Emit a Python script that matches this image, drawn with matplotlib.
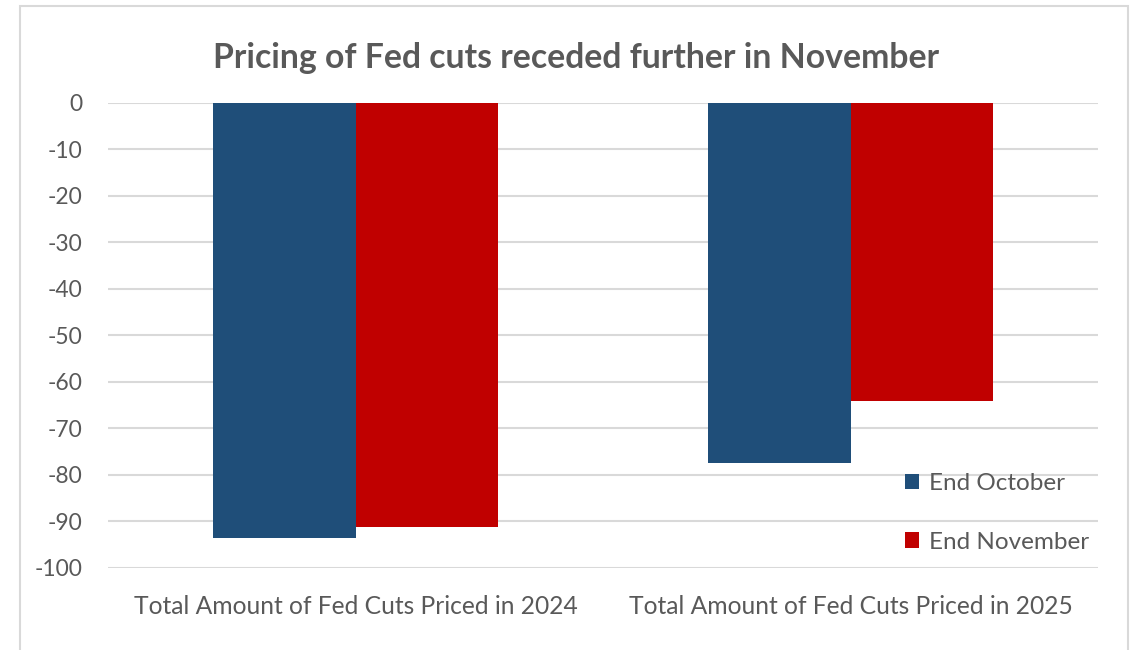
import matplotlib
matplotlib.use("Agg")
import matplotlib.pyplot as plt
from matplotlib.patches import Rectangle
import numpy as np

categories = ["Total Amount of Fed Cuts Priced in 2024", "Total Amount of Fed Cuts Priced in 2025"]
series_names = ["End October", "End November"]
end_october = [-93.6, -77.5]
end_november = [-91.2, -64.2]
yticks = list(range(0, -101, -10))
colors = ["#1f4e79", "#c00000"]
title = "Pricing of Fed cuts receded further in November"

plt.rcParams['font.family'] = ['Lato', 'DejaVu Sans']
txt = "#595959"

fig = plt.figure(figsize=(11.33, 6.5), dpi=100)
fig.patches.append(Rectangle((20/1133, -0.1), (1128-20)/1133, 1.1 - 6/650, transform=fig.transFigure,
                             fill=False, edgecolor="#d9d9d9", linewidth=1.5))
ax = fig.add_axes([108/1133, 1-567.7/650, (1098-108)/1133, (567.7-102.7)/650])

x = np.arange(len(categories))
w = 0.287
for i, (vals, name) in enumerate(zip([end_october, end_november], series_names)):
    ax.bar(x + (i - 0.5) * w, vals, width=w, color=colors[i], label=name, zorder=3)

ax.set_xlim(-0.5, 1.5)
ax.set_ylim(-100, 0)
ax.set_yticks(yticks)
ax.set_yticklabels([str(t) for t in yticks])
ax.set_xticks(x)
ax.set_xticklabels(categories)
ax.tick_params(axis='both', length=0, labelsize=16.5, colors=txt)
ax.tick_params(axis='y', pad=18.5)
ax.tick_params(axis='x', labelsize=17.7, pad=20)
ax.yaxis.grid(True, color="#d9d9d9", linewidth=1.5, zorder=0)
for s in ax.spines.values():
    s.set_visible(False)

fig.text(576/1133, 1-58/650, title, ha='center', va='center', fontsize=24.3, fontweight='bold', color=txt)

leg = ax.legend(loc='lower right', bbox_to_anchor=(1.0 + 8/990, -2/465), frameon=False, fontsize=17.5,
                labelcolor=txt, handlelength=0.6, handleheight=0.6, handletextpad=0.4,
                labelspacing=1.55, borderaxespad=0.3)

fig.savefig("out.png", dpi=100)
